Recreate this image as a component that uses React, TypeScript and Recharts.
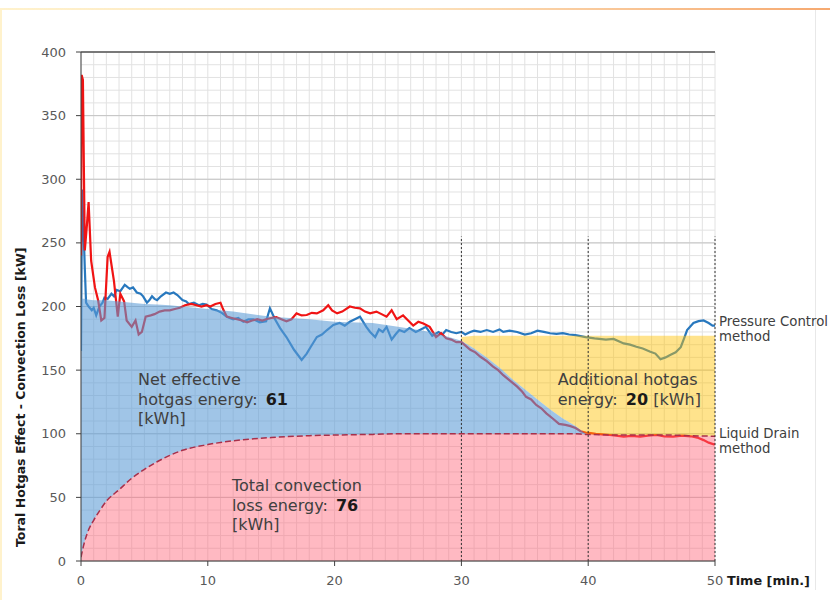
import React from "react";
import {
  ComposedChart, Line, Area, XAxis, YAxis, CartesianGrid, ReferenceLine, ReferenceDot,
} from "recharts";

// ---- data ----
const pressureTimes = [0,0.08,0.2,0.3,0.4,0.6,0.85,1.0,1.2,1.45,1.7,1.85,2.1,2.4,2.6,2.8,3.1,3.45,3.7,3.85,4.1,4.4,4.7,4.9,5.2,5.4,5.6,5.8,6.0,6.3,6.7,7.0,7.3,7.6,8.0,8.3,8.5,8.9,9.3,9.6,9.9,10.3,10.7,11.1,11.5,12,12.4,12.8,13.2,13.6,14.1,14.6,14.9,15.3,15.7,16.2,16.8,17.4,17.8,18.1,18.6,19.0,19.4,19.9,20.4,20.8,21.2,21.6,22,22.5,22.8,23.2,23.5,23.8,24.1,24.5,24.8,25.1,25.5,25.9,26.4,26.8,27.2,27.7,28.2,28.5,28.8,29.2,29.6,30,30.3,30.7,31,31.5,32,32.5,33,33.3,33.8,34.4,35,35.5,36,36.5,37,37.5,38,38.5,39,39.8,40.5,41.4,42,42.8,43.3,43.8,44.3,44.9,45.3,45.7,46.1,46.5,46.9,47.3,47.6,47.8,48.3,48.7,49.1,49.5,49.8,50];
const pressureValues = [165,292,262,230,203,200,197,199,193,200,203,207,206,210,208,213,212,217,215,214,215,211,210,208,203,205,208,206,205,208,211,210,211,209,205,204,202,203,201,202,201.6,198,197,195,192,190,191,188,190,190,187.6,188.4,198.6,190,183,176,166,158,163,168,176,178,181.5,185.5,187,185,188,190,192,184,180,176,182,180,184,174,178,181.5,180,183,180,182,184,177,180,178,181.5,180,179,180,178,180,181,180,181.5,180,182,180,181,180,178,179,181,180,179,178.5,179,178,177.5,176,175,174,174.5,171,170,168.4,167,164.5,163,158.5,160,162,164,168,176,181.5,187,188.5,189,187,185,185];

const drainTimes = [0,0.05,0.15,0.3,0.45,0.6,0.8,1.1,1.35,1.6,1.85,2.1,2.25,2.4,2.6,2.9,3.1,3.4,3.6,4.0,4.3,4.55,4.8,5.1,5.5,5.8,6.2,6.6,7.0,7.4,7.8,8.2,8.7,9.1,9.5,9.9,10.2,10.6,11,11.2,11.5,11.9,12.3,12.7,13.1,13.5,13.9,14.3,14.6,15.0,15.4,15.8,16.2,16.6,17,17.4,17.8,18.2,18.6,19.1,19.5,19.8,20.2,20.6,21.2,21.6,22,22.4,22.8,23.3,23.7,24.1,24.5,24.9,25.4,25.8,26.2,26.6,27,27.5,28,28.4,28.8,29.2,29.6,30,30.7,31.1,31.5,32,32.5,32.9,33.3,33.8,34.4,34.8,35.1,35.5,35.9,36.3,36.7,37.2,37.7,38.2,38.6,39,39.4,39.8,40.2,40.6,41.1,41.7,42.2,42.8,43.4,44.1,44.7,45.4,46,46.7,47.4,48.1,48.6,49.1,49.5,49.9,50];
const drainValues = [240,382,378,244,262,282,236,215,205,189,191,239,243,233,220,192,210,204,189,184,189,178,180,192,193,194,196,197,197,198,199,201,202,201,200,201,200,202,203,198,192,191,190,189,187.6,189,190,189,190,191,191.7,190,188.4,190,194.6,193,193.3,195,194.6,197,201,197,194.6,196,200,199,198.5,196,194.6,196,194,192,197,190,193,189,185,188,186.6,184,176,179,175,174,172,172,166,164,160.5,157,152.7,150,146,142,137,133,129,127,122.6,120,116,112,107.7,107,106,104.5,102,101,100.5,100,99.5,99,98.5,97.7,98.3,97.7,98.5,99,98,97.7,98.5,98,97,95,93,91.7,92];

const areaTimes = [0,0.25,0.5,1,1.5,2,3,4,5,6,7,8,10,12,15,18,20,23,25,27,28,29,30,31,32,33,34,35,36,37,38,39,39.8,40,42,44,46,48,50];
const lossValues = [3,14,22,32,40,47,56,65,72,78,83,87,91.5,94.5,97,98.5,99,99.5,100,100,100,100,100,100,100,100,100,100,100,100,100,100,99.5,99.5,99,99,99,98.5,98];
const netValues = [206,206,205.5,205,205,205,204,203,202,201.5,201,200,198,196,192,190,188,187,184,181,179,176,173,167,160,152,143,135,127,119,112,106,100,99.5,99,99,99,98.5,98];
const extraTop = [176,177,177,177,177,177,177,177,177,177,177,177,177,177,177,177,177];

const xTicks = [0, 10, 20, 30, 40, 50];
const yTicks = [0, 50, 100, 150, 200, 250, 300, 350, 400];
const markerTimes = [30, 40, 50];

const netText = [[["Net effective", false]], [["hotgas energy: ", false], ["61", true]], [["[kWh]", false]]];
const addText = [[["Additional hotgas", false]], [["energy: ", false], ["20", true], [" [kWh]", false]]];
const lossText = [[["Total convection", false]], [["loss energy: ", false], ["76", true]], [["[kWh]", false]]];
const pressureLabel = [[["Pressure Control", false]], [["method", false]]];
const drainLabel = [[["Liquid Drain", false]], [["method", false]]];

// ---- tables built from the arrays ----
const pressureData = pressureTimes.map((t, i) => ({ t, v: pressureValues[i] }));
const drainData = drainTimes.map((t, i) => ({ t, v: drainValues[i] }));
const areaData = areaTimes.map((t, i) => ({ t, loss: lossValues[i], net: netValues[i] }));
const extraData = areaData.filter((d) => d.t >= 30).map((d, i) => ({ t: d.t, lo: d.net, hi: extraTop[i] }));

const minorX: number[] = [];
for (let i = 0; i <= 50; i++) minorX.push(i);
const minorY: number[] = [];
for (let i = 0; i <= 400; i += 10) minorY.push(i);

const FONT = "'DejaVu Sans', Verdana, sans-serif";

function annot(lines: any[], fontSize: number, lineH: number, dx = 0, color = "#404040") {
  return (p: any) => {
    const vb = p.viewBox || {};
    const x = (vb.x || 0) + dx;
    const y = vb.y || 0;
    return (
      <text x={x} y={y} fontSize={fontSize} fontFamily={FONT} fill={color}>
        {lines.map((ln: any[], i: number) => (
          <tspan key={i} x={x} dy={i === 0 ? 0 : lineH}>
            {ln.map((seg: any, j: number) => (
              <tspan key={j} dx={seg[1] ? 3 : 0} fontWeight={seg[1] ? "bold" : "normal"} fill={seg[1] ? "#1a1a1a" : color}>{seg[0]}</tspan>
            ))}
          </tspan>
        ))}
      </text>
    );
  };
}

export default function App() {
  return (
    <div style={{ position: "absolute", left: 0, top: 0, width: 830, height: 600, background: "#fff", overflow: "hidden" }}>
      <div style={{ position: "absolute", left: 0, top: 8, width: 830, height: 2, background: "linear-gradient(to right, #FFF2CC, #FCE2BC 50%, #F6A970)" }} />
      <div style={{ position: "absolute", left: 0, top: 8, width: 2, height: 592, background: "#FFF2CC" }} />
      <div style={{ position: "absolute", left: 815, top: 10, width: 1, height: 580, background: "#e8e8e8" }} />
      <div style={{ position: "absolute", left: 0, top: 0 }}>
        <ComposedChart width={830} height={600} margin={{ top: 52, right: 115, bottom: 9, left: 0 }}>
          <CartesianGrid stroke="#e2e2e2" strokeWidth={1} horizontalValues={minorY} verticalValues={minorX} />
          <CartesianGrid stroke="#c4c4c4" strokeWidth={1} horizontalValues={yTicks} vertical={false} />
          <XAxis
            dataKey="t" type="number" domain={[0, 50]} ticks={xTicks} allowDataOverflow
            height={30} tickSize={5} tickMargin={10} interval={0}
            stroke="#404040" tick={{ fill: "#595959", fontSize: 13, fontFamily: FONT }}
            label={(p: any) => {
              const vb = p.viewBox || {};
              return (
                <text x={vb.x + vb.width + 12} y={vb.y + 24} fontSize={12.8} fontWeight="bold" fontFamily={FONT} fill="#1a1a1a">Time [min.]</text>
              );
            }}
          />
          <YAxis
            type="number" domain={[0, 400]} ticks={yTicks} allowDataOverflow
            width={81} tickSize={5} tickMargin={10} interval={0}
            stroke="#404040" tick={{ fill: "#595959", fontSize: 13, fontFamily: FONT }}
            label={(p: any) => {
              const vb = p.viewBox || {};
              const x = 21;
              const y = vb.y + vb.height - 14;
              return (
                <text x={x} y={y} transform={`rotate(-90, ${x}, ${y})`} dy={4} fontSize={12.5} fontWeight="bold" fontFamily={FONT} fill="#1a1a1a">
                  Toral Hotgas Effect  -  Convection Loss [kW]
                </text>
              );
            }}
          />
          <Line data={pressureData} dataKey="v" stroke="#2878BE" strokeWidth={2.2} dot={false} isAnimationActive={false} zIndex={150} />
          <Line data={drainData} dataKey="v" stroke="#F01414" strokeWidth={2.2} dot={false} isAnimationActive={false} zIndex={150} />
          <Area data={extraData} dataKey={(d: any) => [d.lo, d.hi]} type="linear" fill="#FFC000" fillOpacity={0.45} stroke="none" isAnimationActive={false} zIndex={200} />
          <Area data={areaData} dataKey={(d: any) => [d.loss, d.net]} type="linear" fill="#5B9BD5" fillOpacity={0.58} stroke="none" isAnimationActive={false} zIndex={200} />
          <Area data={areaData} dataKey="loss" type="monotone" fill="#FF6378" fillOpacity={0.45} stroke="#A8304A" strokeWidth={1.5} strokeDasharray="6 3" isAnimationActive={false} zIndex={200} />
          {markerTimes.map((t) => (
            <ReferenceLine key={t} segment={[{ x: t, y: 0 }, { x: t, y: 255 }]} stroke="#333" strokeDasharray="2 2" strokeWidth={1} zIndex={300} />
          ))}
          <ReferenceLine y={400} stroke="#595959" strokeWidth={1.5} />
          <ReferenceDot x={4.5} y={138} r={0} fill="none" stroke="none" label={annot(netText, 16, 19.5)} zIndex={400} />
          <ReferenceDot x={37.6} y={138} r={0} fill="none" stroke="none" label={annot(addText, 16, 19.5)} zIndex={400} />
          <ReferenceDot x={11.9} y={55} r={0} fill="none" stroke="none" label={annot(lossText, 16, 19.5)} zIndex={400} />
          <ReferenceDot x={50} y={185} r={0} fill="none" stroke="none" ifOverflow="visible" label={annot(pressureLabel, 13.3, 15.5, 4)} zIndex={400} />
          <ReferenceDot x={50} y={97} r={0} fill="none" stroke="none" ifOverflow="visible" label={annot(drainLabel, 13.3, 15.5, 4)} zIndex={400} />
        </ComposedChart>
      </div>
    </div>
  );
}
